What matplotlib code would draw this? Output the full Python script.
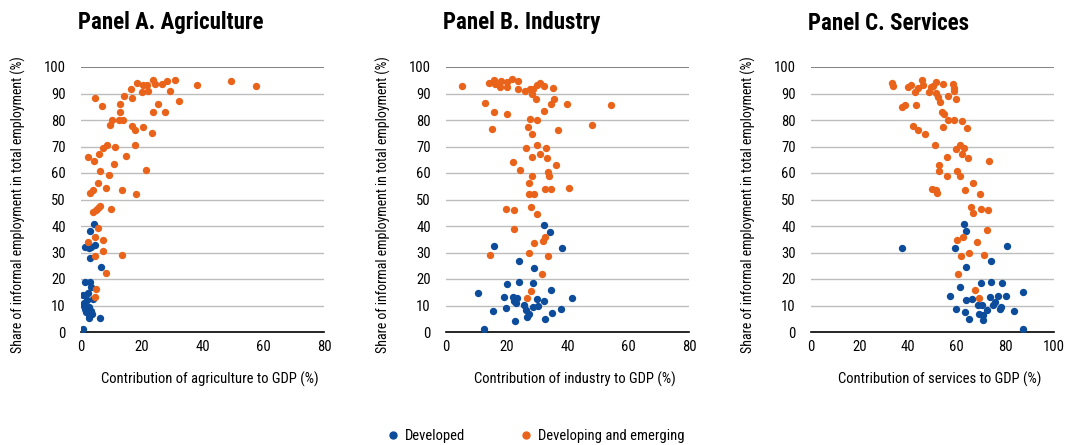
import matplotlib
matplotlib.use("Agg")
import matplotlib.pyplot as plt
from matplotlib import font_manager
from matplotlib.lines import Line2D

# narrow font like the original, with fallbacks
names = {f.name for f in font_manager.fontManager.ttflist}
font = next((n for n in ["Roboto Condensed", "Archivo Narrow", "Barlow Condensed",
                         "Liberation Sans Narrow", "Roboto"] if n in names), "DejaVu Sans")
plt.rcParams["font.family"] = [font, "DejaVu Sans"]

blue = "#0c4c9b"
orange = "#e9641a"

# Panel A: agriculture share of GDP vs informal employment
agr_dev_x = [4.3, 3.0, 1.3, 2.6, 3.3, 4.5, 2.8, 6.7, 1.2, 2.8, 3.4, 0.8, 2.2, 3.9, 0.5, 1.3,
             1.8, 2.6, 3.6, 2.7, 6.4, 0.5, 1.0, 2.5, 3.2, 2.1]
agr_dev_y = [40.9, 38.2, 32.1, 31.6, 32.1, 33.0, 27.8, 24.4, 18.8, 19.0, 16.8, 13.9, 14.9, 12.3,
             10.3, 8.8, 7.6, 6.5, 6.9, 5.2, 5.2, 1.0, 10.8, 9.4, 7.9, 12.0]
agr_emg_x = [4.6, 6.8, 18.5, 20.3, 21.8, 23.8, 24.2, 26.6, 28.2, 31.1, 38.2, 49.4, 57.6, 16.3,
             20.1, 22.2, 29.2, 14.0, 16.7, 12.9, 32.3, 25.3, 12.7, 23.6, 27.5, 10.2, 12.6, 13.8,
             9.4, 16.9, 17.9, 20.3, 23.3, 8.4, 7.2, 6.0, 11.1, 17.8, 2.4, 4.3, 14.8, 11.0, 6.4,
             9.3, 21.5, 5.6, 8.2, 3.8, 2.8, 13.6, 18.0, 3.8, 4.8, 5.5, 6.2, 9.8, 5.6, 2.3, 4.5,
             7.3, 4.5, 7.1, 13.4, 8.3, 4.8, 4.5]
agr_emg_y = [88.4, 85.4, 94.1, 93.2, 93.2, 95.1, 93.7, 93.5, 94.7, 95.0, 93.2, 94.7, 92.7, 91.7,
             90.4, 91.1, 91.1, 89.2, 88.2, 85.9, 87.2, 86.1, 83.0, 82.9, 83.2, 80.1, 80.1, 80.1,
             78.0, 77.7, 76.3, 77.2, 75.1, 70.5, 69.5, 67.3, 69.8, 70.7, 66.0, 64.6, 66.4, 63.4,
             60.8, 59.1, 61.3, 56.4, 54.5, 53.7, 52.4, 53.7, 52.1, 45.3, 46.1, 46.9, 47.4, 46.6,
             39.4, 34.1, 36.0, 34.9, 28.8, 30.4, 29.0, 22.3, 16.2, 13.1]

# Panel B: industry
ind_dev_x = [32.4, 34.4, 15.9, 38.3, 23.9, 28.9, 20.2, 23.9, 28.8, 10.6, 34.7, 19.1, 22.2, 23.5,
             22.5, 23.1, 29.9, 32.1, 41.5, 25.7, 19.9, 28.5, 30.4, 15.4, 26.3, 27.4, 26.6, 37.8,
             34.8, 22.8, 32.7, 12.6]
ind_dev_y = [40.3, 37.7, 32.4, 31.6, 26.8, 24.3, 18.3, 19.0, 18.5, 14.7, 16.0, 13.1, 13.1, 12.8,
             11.8, 10.8, 12.5, 11.7, 13.0, 10.3, 9.1, 9.4, 9.9, 7.9, 8.2, 6.7, 5.7, 8.7, 7.2,
             4.3, 4.8, 1.0]
ind_emg_x = [5.2, 14.0, 15.8, 16.2, 18.0, 17.8, 20.2, 20.2, 21.8, 23.6, 23.6, 25.9, 27.7, 28.8,
             29.9, 31.0, 32.1, 35.3, 28.4, 29.7, 35.4, 34.7, 39.9, 54.3, 12.8, 15.9, 20.2, 32.4,
             27.7, 29.9, 27.1, 28.2, 15.0, 37.0, 48.2, 26.3, 29.9, 32.9, 31.0, 28.2, 33.3, 22.2,
             36.2, 24.5, 33.6, 34.0, 28.2, 27.2, 32.7, 34.5, 40.6, 27.4, 29.1, 19.9, 22.5, 28.1,
             29.9, 22.3, 32.6, 31.8, 29.0, 14.6, 27.4, 33.6, 31.5, 28.1, 26.6]
ind_emg_y = [92.9, 94.0, 95.1, 93.5, 94.7, 92.6, 94.5, 92.3, 95.3, 94.6, 91.6, 91.1, 91.6, 91.6,
             93.2, 94.0, 92.9, 92.2, 89.8, 88.0, 88.0, 86.0, 86.0, 85.5, 86.6, 83.0, 82.4, 83.4,
             80.5, 80.1, 77.5, 74.8, 76.6, 76.1, 78.2, 69.5, 70.4, 69.4, 67.0, 66.0, 65.5, 64.2,
             63.0, 61.0, 60.2, 58.7, 58.7, 56.2, 53.8, 53.8, 54.3, 52.1, 52.1, 46.5, 46.0, 47.0,
             44.6, 38.7, 35.9, 34.5, 33.6, 29.0, 29.7, 28.5, 21.9, 15.6, 12.8]

# Panel C: services
srv_dev_x = [63.0, 63.7, 37.5, 59.3, 80.5, 73.9, 63.7, 61.3, 69.8, 73.9, 78.7, 87.4, 57.1, 63.6,
             66.3, 73.5, 76.8, 80.1, 75.7, 74.7, 68.7, 70.5, 78.3, 77.6, 72.5, 59.5, 63.5, 69.1,
             70.9, 83.7, 65.0, 70.9, 87.4]
srv_dev_y = [40.7, 38.2, 31.6, 31.6, 32.5, 26.8, 24.4, 16.8, 18.5, 18.9, 18.5, 15.1, 13.4, 12.0,
             12.6, 13.1, 13.4, 13.4, 11.3, 10.3, 10.1, 10.1, 9.4, 8.8, 8.2, 8.8, 7.6, 6.8, 6.3,
             7.8, 4.8, 4.7, 1.0]
srv_emg_x = [33.4, 33.7, 40.1, 41.2, 45.7, 45.9, 44.2, 42.7, 48.5, 49.3, 51.4, 50.1, 54.4, 58.4,
             58.7, 58.8, 51.4, 52.2, 56.3, 59.5, 52.9, 37.5, 38.6, 43.1, 54.1, 54.8, 56.3, 58.8,
             62.1, 64.1, 54.5, 41.9, 44.2, 47.1, 51.0, 59.5, 61.3, 62.8, 62.2, 64.6, 55.9, 73.4,
             52.7, 52.5, 59.9, 55.9, 61.3, 66.5, 49.9, 51.6, 51.9, 63.5, 69.4, 65.9, 70.1, 72.8,
             66.5, 72.4, 59.9, 62.6, 68.3, 61.8, 65.1, 71.0, 60.4, 67.3, 69.1]
srv_emg_y = [94.1, 92.8, 92.3, 93.1, 95.0, 93.3, 92.2, 90.6, 90.7, 92.6, 94.5, 93.0, 93.6, 93.6,
             92.1, 91.1, 90.3, 88.7, 89.0, 87.8, 86.9, 85.0, 85.6, 85.8, 83.2, 82.4, 80.1, 80.1,
             79.8, 76.8, 77.2, 77.6, 76.3, 74.6, 70.4, 69.0, 70.7, 69.6, 67.0, 65.7, 66.1, 64.5,
             63.2, 60.8, 60.7, 58.8, 58.8, 56.4, 53.9, 53.5, 52.5, 53.4, 52.1, 47.0, 46.6, 46.0,
             44.8, 38.5, 34.6, 35.9, 33.8, 28.6, 29.8, 29.0, 21.8, 15.9, 13.0]

panels = [
    ("Panel A. Agriculture", "Contribution of agriculture to GDP (%)", 80,
     agr_dev_x, agr_dev_y, agr_emg_x, agr_emg_y),
    ("Panel B. Industry", "Contribution of industry to GDP (%)", 80,
     ind_dev_x, ind_dev_y, ind_emg_x, ind_emg_y),
    ("Panel C. Services", "Contribution of services to GDP (%)", 100,
     srv_dev_x, srv_dev_y, srv_emg_x, srv_emg_y),
]

W, H = 1067, 445
fig = plt.figure(figsize=(W / 100, H / 100), dpi=100)
lefts = [81, 446, 811]

for left, (title, xlabel, xmax, dx, dy, ex, ey) in zip(lefts, panels):
    ax = fig.add_axes([left / W, 113 / H, 243 / W, 265 / H])
    for y in range(10, 100, 10):
        ax.axhline(y, color="#bdbdbd", lw=1, zorder=1)
    ax.axhline(100, color="#777777", lw=1.3, zorder=1)
    ax.scatter(dx, dy, s=28, color=blue, linewidths=0, zorder=3)
    ax.scatter(ex, ey, s=28, color=orange, linewidths=0, zorder=3)
    ax.set_xlim(0, xmax)
    ax.set_ylim(0, 100)
    ax.set_xticks(range(0, xmax + 1, 20))
    ax.set_yticks(range(0, 101, 10))
    for s in ["top", "right", "left"]:
        ax.spines[s].set_visible(False)
    ax.spines["bottom"].set_color("black")
    ax.spines["bottom"].set_linewidth(1.2)
    ax.tick_params(axis="x", length=0, labelsize=10.5, pad=6)
    ax.tick_params(axis="y", length=0, labelsize=10.5, pad=11)
    ax.set_xlabel(xlabel, fontsize=10.5)
    ax.xaxis.set_label_coords(0.5 + 7 / 243, -40 / 265)
    ax.set_ylabel("Share of informal employment in total employment (%)", fontsize=10)
    ax.yaxis.set_label_coords(-55 / 243, 0.48)
    fig.text((left - 3) / W, 1 - 23 / H, title, fontsize=16.5, fontweight="bold",
             va="center", ha="left")

handles = [Line2D([], [], ls="", marker="o", ms=5, color=blue, mec=blue),
           Line2D([], [], ls="", marker="o", ms=5, color=orange, mec=orange)]
fig.legend(handles, ["Developed", "Developing and emerging"], loc="center",
           bbox_to_anchor=(536 / W, 1 - 436 / H), ncol=2, frameon=False, fontsize=10.5,
           handletextpad=0.4, columnspacing=3.8, handlelength=0.8)

fig.savefig("out.png", dpi=100)
